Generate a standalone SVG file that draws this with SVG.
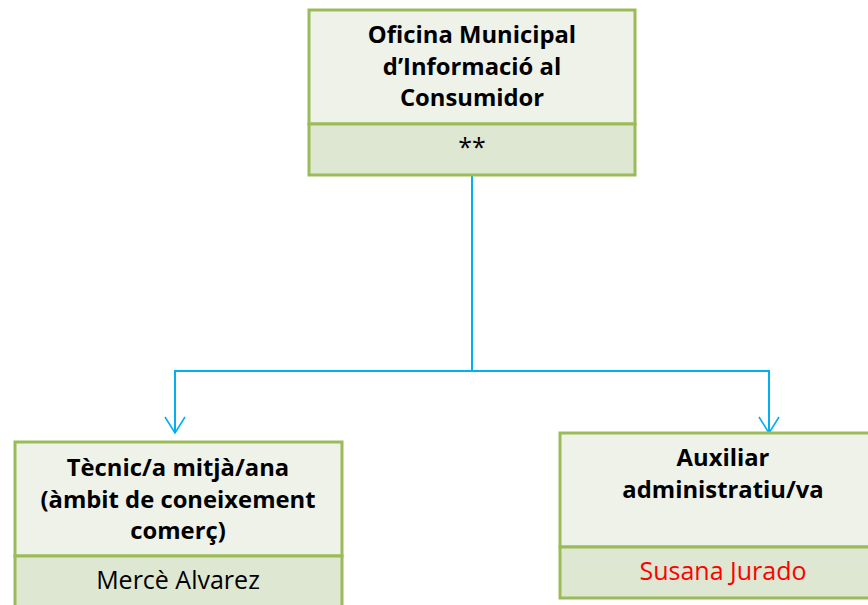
<svg xmlns="http://www.w3.org/2000/svg" width="868" height="605" viewBox="0 0 868 605">
<defs>
<style>
.hd{fill:#eff2e9;stroke:#9bbb59;stroke-width:3}
.ft{fill:#dee7d2;stroke:#9bbb59;stroke-width:3}
.t{font-family:"Open Sans","Liberation Sans",sans-serif;font-weight:bold;font-size:23.8px;fill:#000;text-anchor:middle}
.n{font-family:"Open Sans","Liberation Sans",sans-serif;font-size:25px;fill:#000;text-anchor:middle}
.c{fill:none;stroke:#00b0f0;stroke-width:2}
</style>
<marker id="arr" viewBox="0 0 18 22" refX="17" refY="11" markerWidth="18" markerHeight="22" markerUnits="userSpaceOnUse" orient="auto">
<path d="M1,1 L17,11 L1,21" fill="none" stroke="#00b0f0" stroke-width="1.6"/>
</marker>
</defs>
<rect width="868" height="605" fill="#fff"/>
<g id="connectors">
<path class="c" d="M472,176 V371 H175 V433" marker-end="url(#arr)"/>
<path class="c" d="M472,371 H769 V433" marker-end="url(#arr)"/>
</g>
<g id="oficina">
<rect class="hd" x="309" y="10" width="326" height="114"/>
<rect class="ft" x="309" y="124" width="326" height="51"/>
<text class="t" x="472" y="43">Oficina Municipal</text>
<text class="t" x="472" y="75">d’Informació al</text>
<text class="t" x="472" y="106">Consumidor</text>
<text class="n" x="472" y="156">**</text>
</g>
<g id="tecnic">
<rect class="hd" x="15" y="442" width="327" height="114"/>
<rect class="ft" x="15" y="556" width="327" height="60"/>
<text class="t" x="178" y="476">Tècnic/a mitjà/ana</text>
<text class="t" x="178" y="508">(àmbit de coneixement</text>
<text class="t" x="178" y="539">comerç)</text>
<text class="n" x="178" y="589">Mercè Alvarez</text>
</g>
<g id="auxiliar">
<rect class="hd" x="560" y="433" width="327" height="114"/>
<rect class="ft" x="560" y="547" width="327" height="51"/>
<text class="t" x="723" y="466">Auxiliar</text>
<text class="t" x="723" y="498">administratiu/va</text>
<text class="n" x="723" y="580" style="fill:#ff0000">Susana Jurado</text>
</g>
</svg>
